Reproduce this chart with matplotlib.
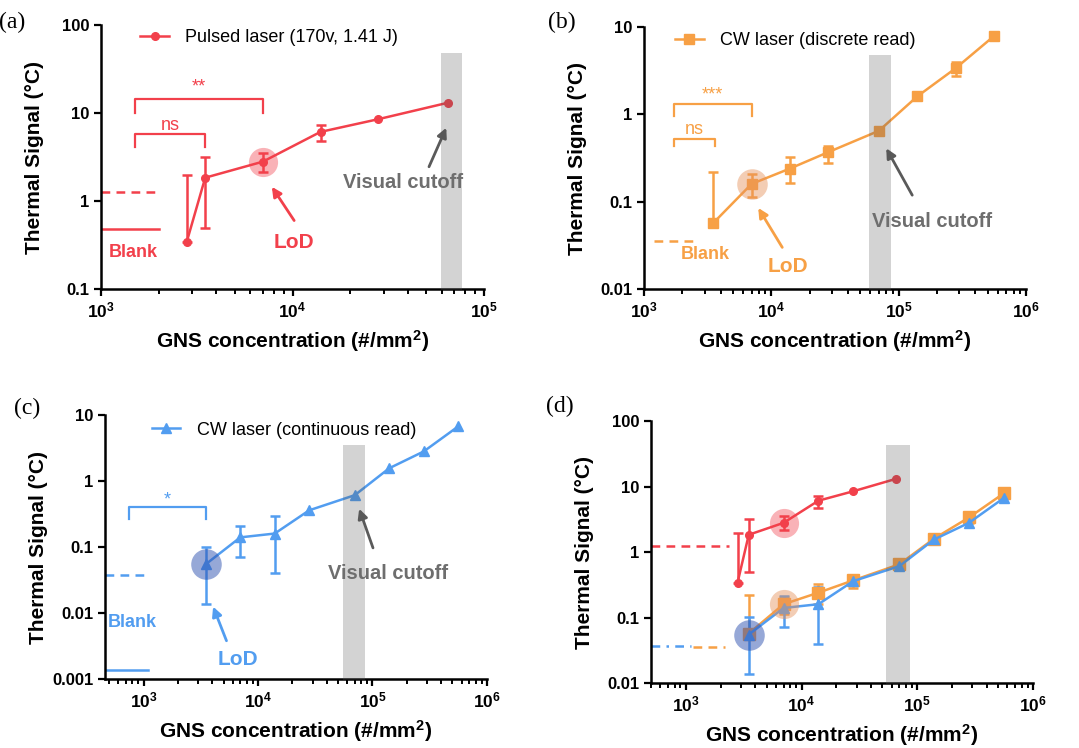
import numpy as np
import matplotlib
matplotlib.use('Agg')
import matplotlib.pyplot as plt
from matplotlib.lines import Line2D
from matplotlib.ticker import FixedLocator, LogLocator, NullLocator, NullFormatter

plt.rcParams['font.family'] = ['Liberation Sans', 'DejaVu Sans']
plt.rcParams['mathtext.fontset'] = 'custom'
plt.rcParams['mathtext.rm'] = 'Liberation Sans:bold'
plt.rcParams['mathtext.bf'] = 'Liberation Sans:bold'
plt.rcParams['mathtext.default'] = 'rm'

RED = '#f2404b'
ORANGE = '#f7a045'
BLUE = '#529df0'
GREY_TXT = '#6e6e6e'
GREY_ARR = '#5a5a5a'

# pulsed laser
x_pulsed = [2800, 3500, 7000, 14000, 28000, 65000]
y_pulsed = [0.34, 1.84, 2.8, 6.1, 8.5, 13.1]
lo_pulsed = [0.34, 0.49, 2.15, 4.8, None, None]
hi_pulsed = [1.95, 3.2, 3.5, 7.3, None, None]

# CW discrete read
x_cw = [3500, 7000, 14000, 28000, 70000, 140000, 280000, 560000]
y_disc = [0.057, 0.16, 0.24, 0.37, 0.65, 1.61, 3.38, 7.9]
lo_disc = [0.057, 0.114, 0.163, 0.28, None, None, 2.75, None]
hi_disc = [0.22, 0.207, 0.33, 0.44, None, None, 4.0, None]

# CW continuous read
y_cont = [0.055, 0.14, 0.16, 0.36, 0.61, 1.56, 2.8, 6.7]
lo_cont = [0.0137, 0.071, 0.040, None, None, None, None, None]
hi_cont = [0.101, 0.21, 0.29, None, None, None, None, None]

# blank levels
blank_pulsed_mean = 0.48
blank_pulsed_thr = 1.26
blank_disc_thr = 0.0357
blank_cont_mean = 0.00138
blank_cont_thr = 0.0377

# LoD points
lod_pulsed = (7000, 2.8)
lod_disc = (7000, 0.16)
lod_cont = (3500, 0.055)

# visual cutoff band, per panel
band_a = (59500, 77000)
band_b = (59000, 86500)
band_c = (55500, 86000)
band_d = (54000, 87000)

xlabel = 'GNS concentration (#/mm$^{2}$)'
ylabel = 'Thermal Signal (\u00b0C)'


def err(y, lo, hi):
    y = np.array(y, float)
    lo = np.array([np.nan if v is None else v for v in lo], float)
    hi = np.array([np.nan if v is None else v for v in hi], float)
    return np.vstack([y - lo, hi - y])


def style(ax, xlim, ylim, yticks, ylabs, xticks):
    ax.set_xscale('log')
    ax.set_yscale('log')
    ax.set_xlim(*xlim)
    ax.set_ylim(*ylim)
    for s in ['top', 'right']:
        ax.spines[s].set_visible(False)
    for s in ['left', 'bottom']:
        ax.spines[s].set_linewidth(1.8)
    ax.yaxis.set_major_locator(FixedLocator(yticks))
    ax.set_yticklabels(ylabs, fontweight='bold', fontsize=12)
    ax.yaxis.set_minor_locator(NullLocator())
    ax.xaxis.set_major_locator(FixedLocator(xticks))
    ax.set_xticklabels(['$10^{%d}$' % int(np.log10(t)) for t in xticks], fontsize=12.5)
    ax.xaxis.set_minor_locator(LogLocator(base=10, subs=np.arange(2, 10)))
    ax.xaxis.set_minor_formatter(NullFormatter())
    ax.tick_params(which='major', length=5, width=1.6, direction='out')
    ax.tick_params(which='minor', length=3.5, width=1.4, direction='out')
    ax.set_xlabel(xlabel, fontsize=15, fontweight='bold')
    ax.set_ylabel(ylabel, fontsize=15, fontweight='bold')
    w = ax.get_position().width * 1079
    h = ax.get_position().height * 748
    ax.yaxis.set_label_coords(-57 / w, 0.5)
    ax.xaxis.set_label_coords(0.5, -39 / h)


def band(ax, xb, top):
    ax.fill_between(xb, [1e-6, 1e-6], [top, top], color='#555555', alpha=0.26,
                    linewidth=0, zorder=10)


def series(ax, x, y, lo, hi, color, marker, ms):
    ax.errorbar(x, y, yerr=err(y, lo, hi), color=color, marker=marker, ms=ms, lw=1.8,
                elinewidth=1.8, capsize=3.5, capthick=1.8, zorder=5)


def legend(ax, color, marker, ms, label, pos):
    h = Line2D([], [], color=color, marker=marker, ms=ms, lw=1.8)
    ax.legend([h], [label], loc='center left', bbox_to_anchor=pos, frameon=False, fontsize=13,
              handlelength=1.6, handletextpad=0.9, borderpad=0, borderaxespad=0)


def bracket(ax, x0, x1, ylo, ytop, color, text, ty, size=13):
    ax.plot([x0, x0, x1, x1], [ylo, ytop, ytop, ylo], color=color, lw=1.6)
    ax.text(np.sqrt(x0 * x1), ty, text, color=color, fontsize=size, ha='center', va='center')


def arrow(ax, tail, head, color):
    ax.annotate('', xy=head, xytext=tail,
                arrowprops=dict(arrowstyle='-|>', color=color, lw=2, mutation_scale=14,
                                shrinkA=0, shrinkB=0), zorder=6)


fig = plt.figure(figsize=(10.79, 7.48), dpi=100)
axa = fig.add_axes([0.0936, 0.6136, 0.355, 0.353])
axb = fig.add_axes([0.5968, 0.6136, 0.354, 0.350])
axc = fig.add_axes([0.0973, 0.0922, 0.354, 0.353])
axd = fig.add_axes([0.6033, 0.0869, 0.354, 0.350])

# (a)
style(axa, (1e3, 1e5), (0.1, 100), [0.1, 1, 10, 100], ['0.1', '1', '10', '100'], [1e3, 1e4, 1e5])
series(axa, x_pulsed, y_pulsed, lo_pulsed, hi_pulsed, RED, 'o', 5.5)
axa.plot(*lod_pulsed, 'o', ms=21, color=RED, alpha=0.4, mec='none', zorder=6)
axa.plot([1000, 2000], [blank_pulsed_thr] * 2, '--', color=RED, lw=1.8, dashes=(3.5, 2.5))
axa.plot([1000, 2000], [blank_pulsed_mean] * 2, '-', color=RED, lw=1.8)
axa.text(1470, 0.26, 'Blank', color=RED, fontsize=13, fontweight='bold', ha='center', va='center')
bracket(axa, 1500, 3500, 4.1, 5.7, RED, 'ns', 7.3)
bracket(axa, 1500, 7000, 9.9, 14.3, RED, '**', 19.5)
arrow(axa, (10200, 0.6), (7800, 1.45), RED)
axa.text(10200, 0.34, 'LoD', color=RED, fontsize=15, fontweight='bold', ha='center', va='center')
band(axa, band_a, 48)
arrow(axa, (51600, 2.45), (63500, 6.8), GREY_ARR)
axa.text(38000, 1.62, 'Visual cutoff', color=GREY_TXT, fontsize=14.5, fontweight='bold',
         ha='center', va='center', zorder=12)
legend(axa, RED, 'o', 5.5, 'Pulsed laser (170v, 1.41 J)', (0.102, 0.951))

# (b)
style(axb, (1e3, 1e6), (0.01, 10), [0.01, 0.1, 1, 10], ['0.01', '0.1', '1', '10'], [1e3, 1e4, 1e5, 1e6])
series(axb, x_cw, y_disc, lo_disc, hi_disc, ORANGE, 's', 7.5)
axb.plot(*lod_disc, 'o', ms=22, color='#e6915a', alpha=0.45, mec='none', zorder=6)
axb.plot([1200, 2500], [blank_disc_thr] * 2, '--', color=ORANGE, lw=1.8, dashes=(3.5, 2.5))
axb.text(3050, 0.025, 'Blank', color=ORANGE, fontsize=13, fontweight='bold', ha='center', va='center')
bracket(axb, 1720, 3600, 0.434, 0.52, ORANGE, 'ns', 0.68)
bracket(axb, 1720, 7000, 0.96, 1.31, ORANGE, '***', 1.68)
arrow(axb, (12200, 0.030), (7900, 0.085), ORANGE)
axb.text(13500, 0.018, 'LoD', color=ORANGE, fontsize=15, fontweight='bold', ha='center', va='center')
band(axb, band_b, 4.8)
arrow(axb, (128000, 0.119), (80000, 0.41), GREY_ARR)
axb.text(184000, 0.06, 'Visual cutoff', color=GREY_TXT, fontsize=14.5, fontweight='bold',
         ha='center', va='center', zorder=12)
legend(axb, ORANGE, 's', 7.5, 'CW laser (discrete read)', (0.081, 0.948))

# (c)
style(axc, (460, 1e6), (0.001, 10), [0.001, 0.01, 0.1, 1, 10], ['0.001', '0.01', '0.1', '1', '10'],
      [1e3, 1e4, 1e5, 1e6])
series(axc, x_cw, y_cont, lo_cont, hi_cont, BLUE, '^', 7.5)
axc.plot(*lod_cont, 'o', ms=22, color='#2f52b0', alpha=0.5, mec='none', zorder=6)
axc.plot([460, 1050], [blank_cont_thr] * 2, '--', color=BLUE, lw=1.8, dashes=(3.5, 2.5))
axc.plot([460, 1100], [blank_cont_mean] * 2, '-', color=BLUE, lw=1.8)
axc.text(800, 0.0072, 'Blank', color=BLUE, fontsize=13, fontweight='bold', ha='center', va='center')
bracket(axc, 750, 3500, 0.265, 0.40, BLUE, '*', 0.52)
arrow(axc, (5300, 0.0038), (4050, 0.0125), BLUE)
axc.text(6700, 0.002, 'LoD', color=BLUE, fontsize=15, fontweight='bold', ha='center', va='center')
band(axc, band_c, 3.5)
arrow(axc, (101000, 0.097), (76500, 0.38), GREY_ARR)
axc.text(137000, 0.040, 'Visual cutoff', color=GREY_TXT, fontsize=14.5, fontweight='bold',
         ha='center', va='center', zorder=12)
legend(axc, BLUE, '^', 7.5, 'CW laser (continuous read)', (0.122, 0.943))

# (d)
style(axd, (500, 1e6), (0.01, 100), [0.01, 0.1, 1, 10, 100], ['0.01', '0.1', '1', '10', '100'],
      [1e3, 1e4, 1e5, 1e6])
series(axd, x_pulsed, y_pulsed, lo_pulsed, hi_pulsed, RED, 'o', 5.5)
series(axd, x_cw, y_disc, lo_disc, hi_disc, ORANGE, 's', 9)
series(axd, x_cw, y_cont, lo_cont, hi_cont, BLUE, '^', 7.5)
axd.plot(*lod_pulsed, 'o', ms=21, color=RED, alpha=0.4, mec='none', zorder=6)
axd.plot(*lod_disc, 'o', ms=21, color='#e6915a', alpha=0.45, mec='none', zorder=6)
axd.plot(*lod_cont, 'o', ms=22, color='#2f52b0', alpha=0.5, mec='none', zorder=6)
axd.plot([500, 2350], [1.22] * 2, '--', color=RED, lw=1.8, dashes=(3.5, 2.5))
axd.plot([500, 1100], [0.037] * 2, '-.', color=BLUE, lw=1.8, dashes=(3.5, 2.5, 1, 2.5))
axd.plot([1150, 2200], [0.035] * 2, '--', color=ORANGE, lw=1.8, dashes=(3.5, 2.5))
band(axd, band_d, 43)

for lab, (fx, fy) in zip(['(a)', '(b)', '(c)', '(d)'],
                         [(0.011, 0.97), (0.521, 0.97), (0.025, 0.454), (0.519, 0.456)]):
    fig.text(fx, fy, lab, family='Liberation Serif', fontsize=17, ha='center', va='center')

fig.savefig('out.png', dpi=100)
